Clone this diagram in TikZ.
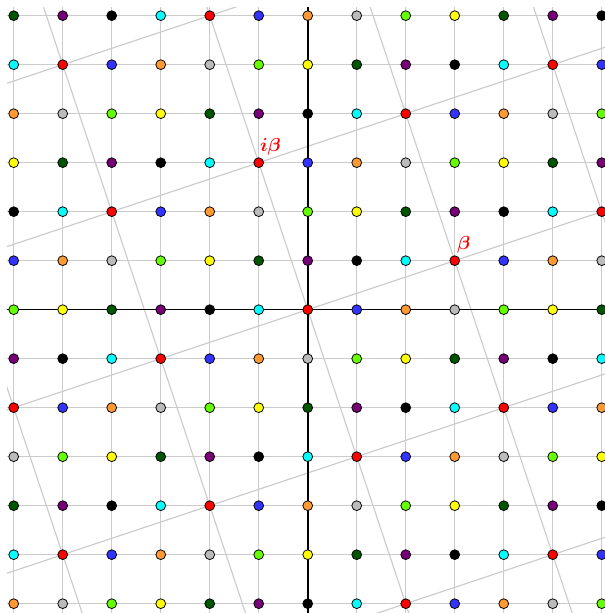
\documentclass[tikz,border=0pt]{standalone}
\usepackage{amsmath,bm}
\definecolor{c0}{HTML}{FF0000}
\definecolor{c1}{HTML}{3333FF}
\definecolor{c2}{HTML}{FF9933}
\definecolor{c3}{HTML}{BBBBBB}
\definecolor{c4}{HTML}{66FF00}
\definecolor{c5}{HTML}{FFFF00}
\definecolor{c6}{HTML}{005500}
\definecolor{c7}{HTML}{770077}
\definecolor{c8}{HTML}{000000}
\definecolor{c9}{HTML}{00FFFF}
\definecolor{gridgray}{HTML}{CCCCCC}
\tikzset{
  gridline/.style={draw=gridgray, line width=0.8pt},
  lattline/.style={draw=gridgray, line width=0.7pt},
  axisline/.style={draw=black, line width=0.9pt},
  dot/.style={circle, draw=black, line width=0.45pt, minimum size=0.2cm, inner sep=0pt},
  lbl/.style={text=red, anchor=base west, inner sep=0pt, font=\fontsize{11}{13}\selectfont}
}
\begin{document}
\begin{tikzpicture}[x=1cm,y=1cm]
\useasboundingbox (-6.28,-6.19) rectangle (6.05,6.32);
\begin{scope}
  \clip (-6.14,-6.3) rectangle (6.2,6.17);
  \draw[gridline] (-7,-7) grid (7,7);
  \foreach \k in {-4,...,4} {
    \draw[lattline] (3*\k+3,\k-9) -- (3*\k-3,\k+9);
    \draw[lattline] (-\k-9,3*\k-3) -- (-\k+9,3*\k+3);
  }
  \draw[axisline] (-7,0) -- (7,0);
  \draw[axisline] (0,-7) -- (0,7);
\end{scope}
\foreach \x in {-6,...,6} {
  \foreach \y in {-6,...,6} {
    \pgfmathtruncatemacro\c{mod(mod(\x-3*\y,10)+10,10)}
    \node[dot, fill=c\c] (p\x_\y) at (\x,\y) {};
  }
}
\node[lbl] (ibeta) at (-1+0.02,3+0.22) {$\bm{i\beta}$};
\node[lbl] (beta) at (3+0.04,1+0.22) {$\bm{\beta}$};
\end{tikzpicture}
\end{document}
